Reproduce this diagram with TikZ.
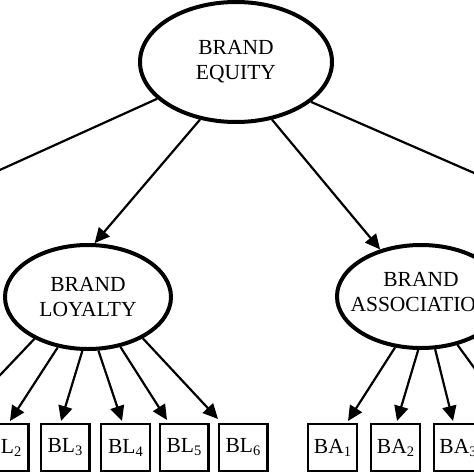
\documentclass[tikz,border=0pt]{standalone}
\usepackage{fontspec}
\setmainfont{Liberation Serif}
\usetikzlibrary{arrows.meta,shapes.geometric}
\newcommand{\subidx}[1]{\raisebox{-3pt}{\fontsize{14.5}{14.5}\selectfont #1}}
\begin{document}
\begin{tikzpicture}[x=1pt,y=-1pt,
  latent/.style={ellipse,draw,line width=4pt,inner sep=0pt},
  lattext/.style={align=center,inner sep=0pt,font=\fontsize{21.5}{25}\selectfont},
  indicator/.style={draw,line width=2.4pt,minimum width=48.6pt,minimum height=46.6pt,inner sep=0pt,font=\fontsize{21.5}{25}\selectfont},
  arr/.style={line width=2.2pt,-{Triangle[length=15pt,width=14pt]}},
  link/.style={line width=2.2pt}]
\useasboundingbox (0,0) rectangle (474,474);
% latent variables
\node[latent,minimum width=192pt,minimum height=120pt] (be) at (236,62) {};
\node[lattext] (betext) at (236,62) {BRAND\\EQUITY};
\node[latent,minimum width=166pt,minimum height=104pt] (ly) at (88,297) {};
\node[lattext] (lytext) at (88,297) {BRAND\\LOYALTY};
\node[latent,minimum width=168pt,minimum height=103pt] (as) at (421,296.5) {};
\node[lattext] (astext) at (421,292) {BRAND\\ASSOCIATION};
% indicators
\node[indicator] (bl1) at (-55.5,447.5) {BL\subidx{1}};
\node[indicator] (bl2) at (4,447.5) {BL\subidx{2}};
\node[indicator] (bl3) at (65,447.5) {BL\subidx{3}};
\node[indicator] (bl4) at (125.5,447.5) {BL\subidx{4}};
\node[indicator] (bl5) at (184,447.5) {BL\subidx{5}};
\node[indicator] (bl6) at (243,447.5) {BL\subidx{6}};
\node[indicator] (ba1) at (332.5,447.5) {BA\subidx{1}};
\node[indicator] (ba2) at (395.5,447.5) {BA\subidx{2}};
\node[indicator] (ba3) at (458,447.5) {BA\subidx{3}};
\node[indicator] (ba4) at (521,447.5) {BA\subidx{4}};
% off-canvas ends
\coordinate (offL) at (-40,188);
\coordinate (offR) at (520,193);
% connectors from brand equity
\draw[link] (be.205.1) -- (offL);
\draw[link] (be.332.5) -- (offR);
\draw[arr] (be.238.3) -- (ly.83);
\draw[arr] (be.302.8) -- (as.131);
% loyalty indicators
\draw[arr] (ly.218.8) -- ([xshift=12pt,yshift=2pt]bl1.north);
\draw[arr] (ly.239.5) -- ([xshift=6pt,yshift=2pt]bl2.north);
\draw[arr] (ly.264.6) -- ([xshift=-4pt,yshift=2pt]bl3.north);
\draw[arr] (ly.281.7) -- ([xshift=-3.5pt,yshift=2pt]bl4.north);
\draw[arr] (ly.303.7) -- ([xshift=-17pt,yshift=3pt]bl5.north);
\draw[arr] (ly.323.9) -- ([xshift=-25pt,yshift=4pt]bl6.north);
% association indicators
\draw[arr] (as.243.6) -- ([xshift=15.5pt,yshift=2pt]ba1.north);
\draw[arr] (as.267.8) -- ([xshift=1.5pt,yshift=2pt]ba2.north);
\draw[arr] (as.285.9) -- ([xshift=-5pt,yshift=2pt]ba3.north);
\draw[arr] (as.307.7) -- ([xshift=-8pt,yshift=2pt]ba4.north);
\end{tikzpicture}
\end{document}
